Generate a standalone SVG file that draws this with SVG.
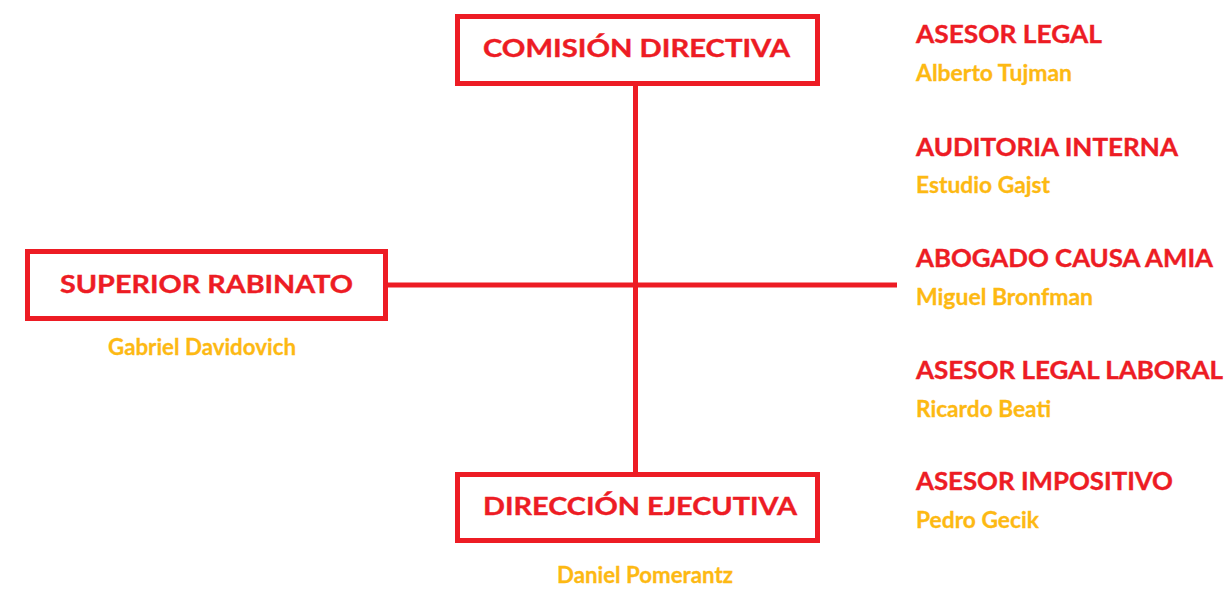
<svg xmlns="http://www.w3.org/2000/svg" width="1231" height="590" viewBox="0 0 1231 590">
<style>
.box{fill:#ffffff;stroke:#ED1C24;stroke-width:5}
.line{stroke:#ED1C24;stroke-width:5;fill:none}
.h{font-family:Lato,"Liberation Sans",sans-serif;font-weight:bold;font-size:25px;fill:#ED1C24;stroke:#ED1C24;stroke-width:0.4}
.n{font-family:Lato,"Liberation Sans",sans-serif;font-weight:bold;font-size:23px;fill:#FDB913;stroke:#FDB913;stroke-width:0.3}
.c{text-anchor:middle}
</style>
<rect width="1231" height="590" fill="#ffffff"/>
<g id="connectors">
<line class="line" x1="635.5" y1="84" x2="635.5" y2="474"/>
<line class="line" x1="388" y1="285" x2="897" y2="285"/>
</g>
<g id="comision-directiva">
<rect class="box" x="457.5" y="16.5" width="360" height="67"/>
<text class="h c" x="636.5" y="57" textLength="307" lengthAdjust="spacingAndGlyphs">COMISIÓN DIRECTIVA</text>
</g>
<g id="superior-rabinato">
<rect class="box" x="27.5" y="251.5" width="358" height="67"/>
<text class="h c" x="206.5" y="293" textLength="293" lengthAdjust="spacingAndGlyphs">SUPERIOR RABINATO</text>
<text class="n c" x="202" y="355" textLength="188" lengthAdjust="spacingAndGlyphs">Gabriel Davidovich</text>
</g>
<g id="direccion-ejecutiva">
<rect class="box" x="457.5" y="474.5" width="360" height="66"/>
<text class="h c" x="640" y="515" textLength="314" lengthAdjust="spacingAndGlyphs">DIRECCIÓN EJECUTIVA</text>
<text class="n c" x="645" y="583" textLength="176" lengthAdjust="spacingAndGlyphs">Daniel Pomerantz</text>
</g>
<g id="asesor-legal">
<text class="h" x="916" y="43" textLength="186" lengthAdjust="spacingAndGlyphs">ASESOR LEGAL</text>
<text class="n" x="916" y="81" textLength="156" lengthAdjust="spacingAndGlyphs">Alberto Tujman</text>
</g>
<g id="auditoria-interna">
<text class="h" x="916" y="156" textLength="262" lengthAdjust="spacingAndGlyphs">AUDITORIA INTERNA</text>
<text class="n" x="916" y="193" textLength="134" lengthAdjust="spacingAndGlyphs">Estudio Gajst</text>
</g>
<g id="abogado-causa-amia">
<text class="h" x="916" y="267" textLength="297" lengthAdjust="spacingAndGlyphs">ABOGADO CAUSA AMIA</text>
<text class="n" x="916" y="305" textLength="177" lengthAdjust="spacingAndGlyphs">Miguel Bronfman</text>
</g>
<g id="asesor-legal-laboral">
<text class="h" x="916" y="379" textLength="307" lengthAdjust="spacingAndGlyphs">ASESOR LEGAL LABORAL</text>
<text class="n" x="916" y="417" textLength="135" lengthAdjust="spacingAndGlyphs">Ricardo Beati</text>
</g>
<g id="asesor-impositivo">
<text class="h" x="916" y="490" textLength="257" lengthAdjust="spacingAndGlyphs">ASESOR IMPOSITIVO</text>
<text class="n" x="916" y="528" textLength="123" lengthAdjust="spacingAndGlyphs">Pedro Gecik</text>
</g>
</svg>
